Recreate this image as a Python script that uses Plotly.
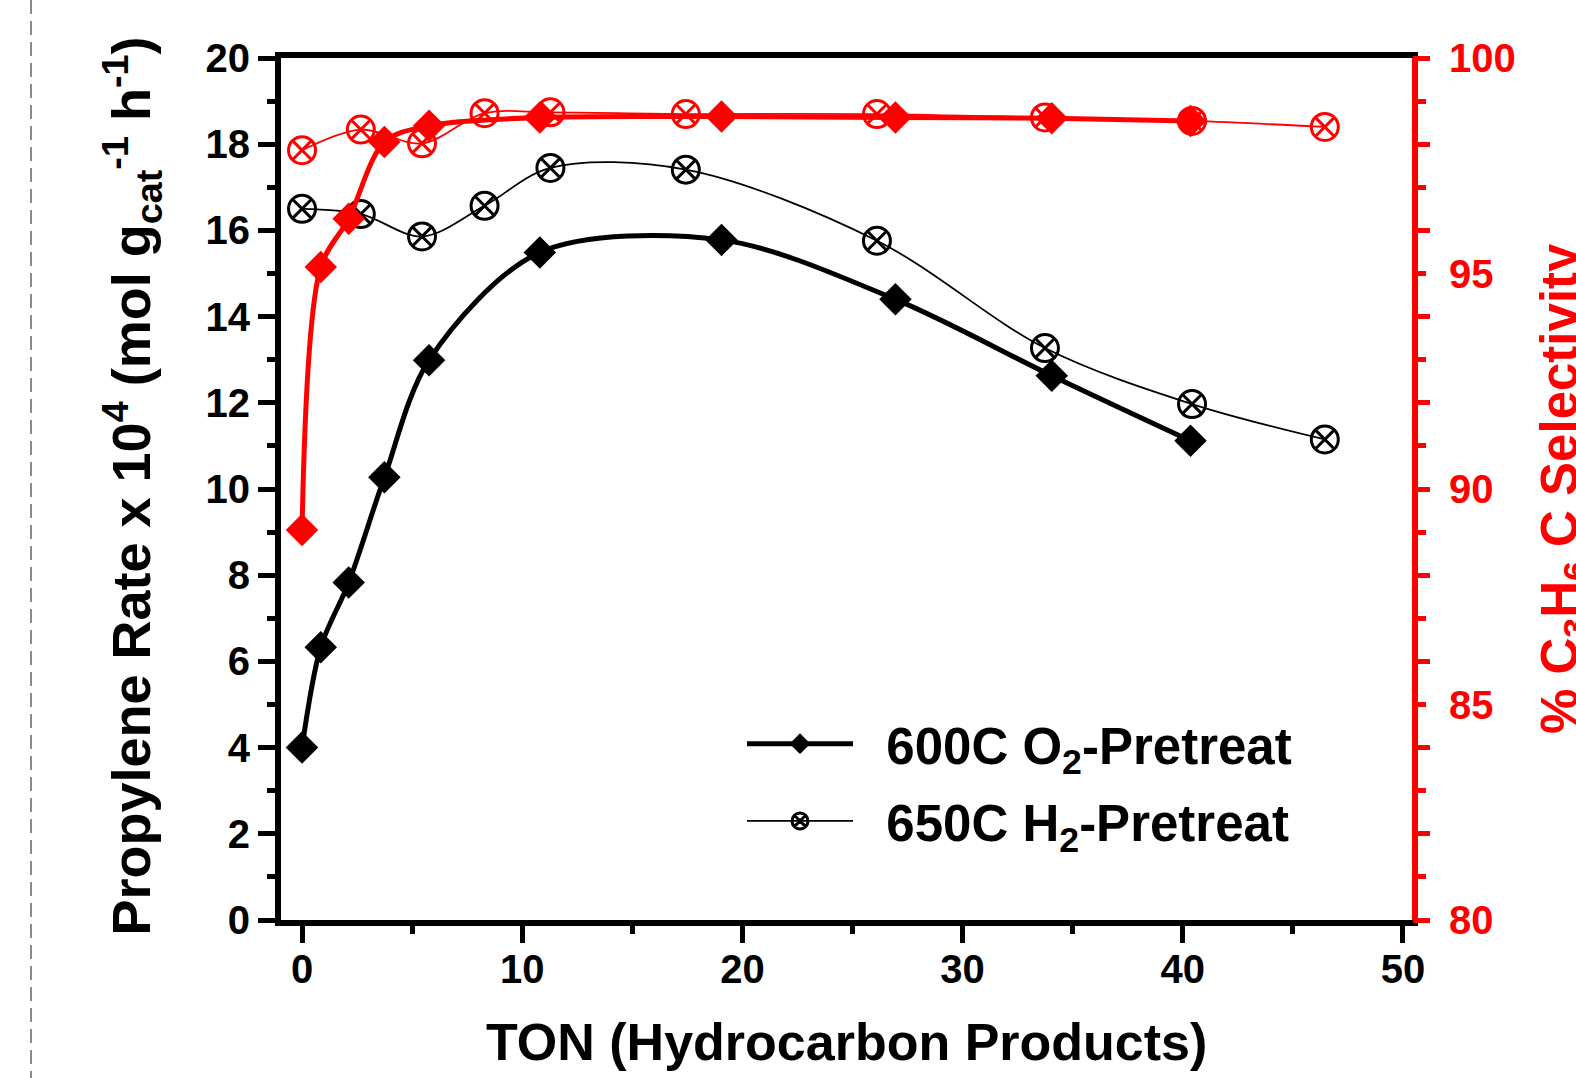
import plotly.graph_objects as go

# ---------------- data ----------------
ton_o2 = [0, 0.85, 2.12, 3.74, 5.77, 10.8, 19.05, 26.95, 34.05, 40.35]
rate_o2 = [4.0, 6.33, 7.83, 10.27, 12.99, 15.49, 15.78, 14.40, 12.63, 11.12]
sel_o2 = [89.05, 95.15, 96.27, 98.05, 98.43, 98.62, 98.64, 98.62, 98.60, 98.54]

ton_h2 = [0, 2.67, 5.45, 8.29, 11.28, 17.43, 26.11, 33.74, 40.42, 46.45]
rate_h2 = [16.5, 16.38, 15.86, 16.57, 17.45, 17.41, 15.76, 13.27, 11.97, 11.15]
sel_h2 = [97.86, 98.34, 98.02, 98.72, 98.74, 98.70, 98.70, 98.62, 98.54, 98.40]

name_o2 = "600C O<sub>2</sub>-Pretreat"
name_h2 = "650C H<sub>2</sub>-Pretreat"

x_ticks = [0, 10, 20, 30, 40, 50]
left_ticks = [0, 2, 4, 6, 8, 10, 12, 14, 16, 18, 20]
right_labels = [80, 85, 90, 95, 100]
right_major = [80, 82, 84, 86, 88, 90, 92, 94, 96, 98, 100]

# ---------------- geometry / style ----------------
W, H = 1576, 1078
L, R, T, B = 281, 1412, 58, 920
PW, PH = R - L, B - T
FONT = "Arial, Liberation Sans, sans-serif"
RED = "#ff0000"
GAP = "\u00a0\u00a0"   # extra space between legend symbol and label


def px_x(p):
    return (p - L) / PW


def px_y(p):
    return (B - p) / PH


fig = go.Figure()

fig.add_trace(go.Scatter(
    x=ton_h2, y=rate_h2, name=GAP + name_h2, mode="lines+markers",
    line=dict(color="black", width=1.8, shape="spline", smoothing=0.95),
    marker=dict(symbol="circle-x-open", size=27, color="black",
                line=dict(width=3, color="black")),
    legendrank=2, legendgroup="h2", yaxis="y"))
fig.add_trace(go.Scatter(
    x=ton_o2, y=rate_o2, name=GAP + name_o2, mode="lines+markers",
    line=dict(color="black", width=5, shape="spline", smoothing=0.9),
    marker=dict(symbol="diamond", size=25, color="black"),
    legendrank=1, legendgroup="o2", yaxis="y"))
fig.add_trace(go.Scatter(
    x=ton_h2, y=sel_h2, name="650C H2-Pretreat selectivity", mode="lines+markers",
    line=dict(color=RED, width=1.8, shape="spline", smoothing=0.95),
    marker=dict(symbol="circle-x-open", size=27, color=RED,
                line=dict(width=3, color=RED)),
    showlegend=False, yaxis="y2"))
fig.add_trace(go.Scatter(
    x=ton_o2, y=sel_o2, name="600C O2-Pretreat selectivity", mode="lines+markers",
    line=dict(color=RED, width=5, shape="spline", smoothing=0.9),
    marker=dict(symbol="diamond", size=25, color=RED),
    showlegend=False, yaxis="y3"))

tickfont = dict(family=FONT, size=40, color="black", weight="bold")

fig.update_layout(
    width=W, height=H, autosize=False,
    margin=dict(l=L, r=W - R, t=T, b=H - B, pad=0),
    plot_bgcolor="white", paper_bgcolor="white",
    font=dict(family=FONT),
    xaxis=dict(
        range=[-0.955, 50.41], tickmode="array", tickvals=x_ticks,
        ticks="outside", ticklen=17, tickwidth=5, tickcolor="black",
        showline=True, linewidth=6, linecolor="black", mirror=True,
        showgrid=False, zeroline=False, tickfont=tickfont,
        ticklabelstandoff=-8,
        minor=dict(tickmode="linear", tick0=0, dtick=5, ticks="outside",
                   ticklen=8, tickwidth=5, tickcolor="black", showgrid=False),
    ),
    yaxis=dict(
        range=[0, 20], tickmode="array", tickvals=left_ticks,
        ticks="outside", ticklen=17, tickwidth=5, tickcolor="black",
        showline=True, linewidth=6, linecolor="black", mirror=False,
        showgrid=False, zeroline=False, tickfont=tickfont,
        minor=dict(tickmode="linear", tick0=0, dtick=1, ticks="outside",
                   ticklen=8, tickwidth=5, tickcolor="black", showgrid=False),
    ),
    yaxis2=dict(
        range=[80, 100], overlaying="y", side="right", anchor="x",
        tickmode="array", tickvals=right_labels,
        ticks="outside", ticklen=8, tickwidth=5, tickcolor=RED,
        showline=True, linewidth=6, linecolor=RED,
        showgrid=False, zeroline=False, ticklabelstandoff=15,
        tickfont=dict(family=FONT, size=40, color=RED, weight="bold"),
        minor=dict(tickmode="linear", tick0=80, dtick=1, ticks="outside",
                   ticklen=8, tickwidth=5, tickcolor=RED, showgrid=False),
    ),
    yaxis3=dict(
        range=[80, 100], overlaying="y", side="right", anchor="x",
        tickmode="array", tickvals=right_major, showticklabels=False,
        ticks="outside", ticklen=17, tickwidth=5, tickcolor=RED,
        showline=False, showgrid=False, zeroline=False,
    ),
    legend=dict(
        x=px_x(742), y=px_y(704), xanchor="left", yanchor="top",
        bgcolor="rgba(0,0,0,0)", borderwidth=0,
        font=dict(family=FONT, size=51, color="black", weight="bold"),
        itemwidth=106, tracegroupgap=8, traceorder="grouped",
    ),
)

anno_font = dict(family=FONT, size=52, color="black", weight="bold")
fig.add_annotation(
    text="Propylene Rate x 10<sup>4</sup> (mol g<sub>cat</sub><sup>-1</sup> h<sup>-1</sup>)",
    xref="paper", yref="paper", x=px_x(131.6), y=px_y(486),
    xanchor="center", yanchor="middle", textangle=-90, showarrow=False,
    font=dict(family=FONT, size=54, color="black", weight="bold"))
fig.add_annotation(
    text="% C<sub>3</sub>H<sub>6</sub> C Selectivity",
    xref="paper", yref="paper", x=px_x(1563), y=px_y(489),
    xanchor="center", yanchor="middle", textangle=-90, showarrow=False,
    font=dict(family=FONT, size=51, color=RED, weight="bold"))
fig.add_annotation(
    text="TON (Hydrocarbon Products)",
    xref="paper", yref="paper", x=px_x(846), y=px_y(1042),
    xanchor="center", yanchor="middle", showarrow=False,
    font=anno_font)

# dashed panel divider at the far left
fig.add_shape(type="line", xref="paper", yref="paper",
              x0=px_x(31), x1=px_x(31), y0=px_y(1085), y1=px_y(-5),
              line=dict(color="#8c8c8c", width=2, dash="14px,7px"))

fig.write_html("out.html",
               config={"displayModeBar": False},
               post_script="document.body.style.margin='0';document.body.style.overflow='hidden';")
